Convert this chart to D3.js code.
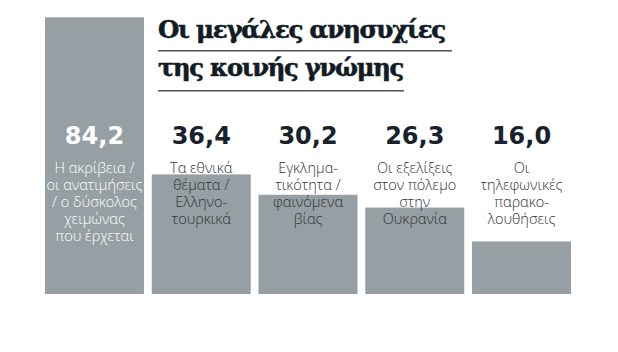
<!DOCTYPE html>
<html>
<head>
<meta charset="utf-8">
<script src="https://cdn.jsdelivr.net/npm/d3@7"></script>
<style>
  body { margin: 0; background: #fff; }
  .canvas { width: 618px; height: 352px; }
</style>
</head>
<body>
<div class="canvas"></div>
<script>
const categories = ["c1", "c2", "c3", "c4", "c5"];
const values = [84.2, 36.4, 30.2, 26.3, 16.0];
const valueLabels = ["84,2", "36,4", "30,2", "26,3", "16,0"];
const captions = [
  ["Η ακρίβεια /", "οι ανατιμήσεις", "/ ο δύσκολος", "χειμώνας", "που έρχεται"],
  ["Τα εθνικά", "θέματα /", "Ελληνο-", "τουρκικά"],
  ["Εγκλημα-", "τικότητα /", "φαινόμενα", "βίας"],
  ["Οι εξελίξεις", "στον πόλεμο", "στην", "Ουκρανία"],
  ["Οι", "τηλεφωνικές", "παρακο-", "λουθήσεις"]
];
const titleLines = ["Οι μεγάλες ανησυχίες", "της κοινής γνώμης"];

function setup() {
  const width = 618;
  const height = 352;
  const baseline = 294;

  const svg = d3
    .select(".canvas")
    .append("svg")
    .attr("width", width)
    .attr("height", height);

  svg.append("rect").attr("width", width).attr("height", height).attr("fill", "#fff");

  const x = d3.scaleBand().domain(categories).range([45, 571]).paddingInner(0.073);
  const y = d3.scaleLinear().domain([0, 84.2]).range([baseline, 17.3]);

  svg
    .selectAll("rect.bar")
    .data(values)
    .enter()
    .append("rect")
    .attr("class", "bar")
    .attr("x", (d, i) => x(categories[i]))
    .attr("y", (d) => y(d))
    .attr("width", x.bandwidth())
    .attr("height", (d) => baseline - y(d))
    .attr("fill", "#969fa3");

  // title, squeezed to the reference width
  const titleWidths = [287, 245];
  titleLines.forEach((t, i) => {
    svg
      .append("text")
      .text(t)
      .attr("x", 158)
      .attr("y", 37.5 + i * 38)
      .attr("textLength", titleWidths[i])
      .attr("lengthAdjust", "spacingAndGlyphs")
      .style("font-family", "'DejaVu Serif', serif")
      .style("font-weight", "bold")
      .style("font-size", "24px")
      .style("letter-spacing", "-1.2px")
      .style("fill", "#121c24")
      .style("stroke", "#121c24")
      .style("stroke-width", 0.6);
  });
  svg.append("line").attr("x1", 158).attr("x2", 452).attr("y1", 50.7).attr("y2", 50.7)
    .attr("stroke", "#4c5358").attr("stroke-width", 1.6);
  svg.append("line").attr("x1", 158).attr("x2", 404).attr("y1", 90.7).attr("y2", 90.7)
    .attr("stroke", "#4c5358").attr("stroke-width", 1.6);

  // values and captions
  const groups = svg
    .selectAll("g.label")
    .data(values)
    .enter()
    .append("g")
    .attr("class", "label")
    .attr("transform", (d, i) => `translate(${x(categories[i]) + x.bandwidth() / 2}, 0)`);

  groups
    .append("text")
    .text((d, i) => valueLabels[i])
    .attr("y", 143.5)
    .attr("text-anchor", "middle")
    .style("font-family", "'DejaVu Sans', sans-serif")
    .style("font-weight", "bold")
    .style("font-size", "24px")
    .style("fill", (d, i) => (i === 0 ? "#ffffff" : "#17222b"));

  groups.each(function (d, i) {
    const g = d3.select(this);
    captions[i].forEach((line, j) => {
      g.append("text")
        .text(line)
        .attr("y", 173.3 + j * 16.8)
        .attr("text-anchor", "middle")
        .style("font-family", "'Open Sans', sans-serif")
        .style("font-weight", "300")
        .style("font-size", "14.5px")
        .style("fill", i === 0 ? "#ffffff" : "#2e3438");
    });
  });
}

setup();
</script>
</body>
</html>
